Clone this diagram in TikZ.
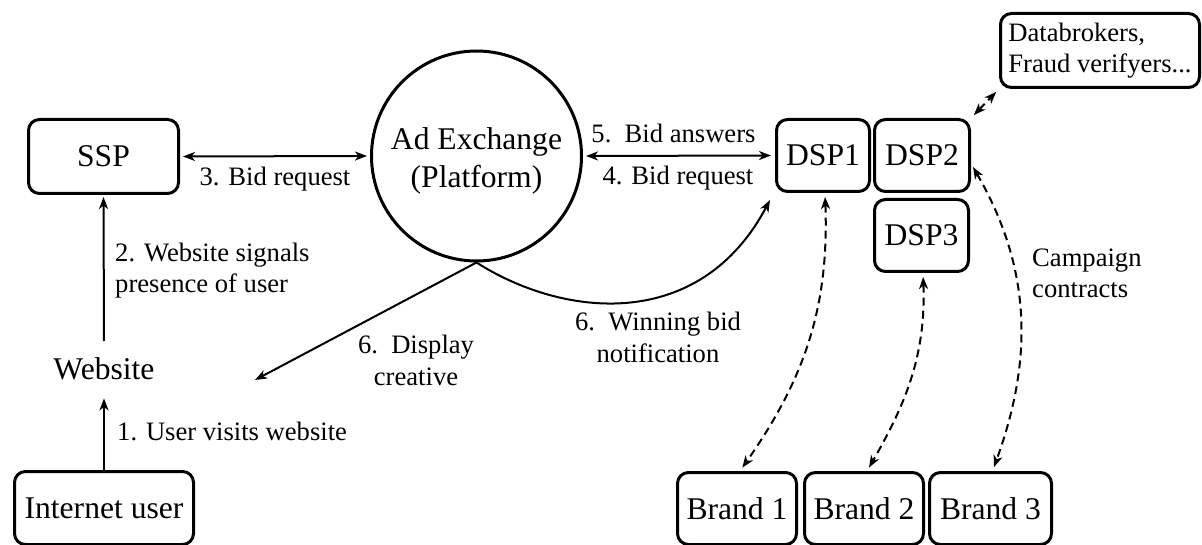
\documentclass[tikz,border=0pt]{standalone}
\usepackage{fontspec}
\setmainfont{Liberation Serif}
\usetikzlibrary{arrows.meta}
\newcommand\mainsz{\fontsize{31.6}{38}\selectfont}
\newcommand\lblsz{\fontsize{26.6}{31.5}\selectfont}
\begin{document}
\begin{tikzpicture}[x=1pt,y=-1pt,
  >={Stealth[length=12pt,width=9pt,inset=3.5pt]},
  box/.style={draw,line width=3pt,rounded corners=11pt,font=\mainsz,inner sep=0pt},
  conn/.style={line width=2pt,->},
  dconn/.style={line width=2pt,<->,dash pattern=on 8pt off 5pt,shorten <=4pt,shorten >=4pt},
  lbl/.style={font=\lblsz,inner sep=0pt}]
\useasboundingbox (0,0) rectangle (1202,545);
% nodes
\node[box,minimum width=150pt,minimum height=74pt] (ssp) at (103.5,156.5) {SSP};
\node[draw,circle,line width=3pt,minimum size=210pt,inner sep=0pt,font=\mainsz,align=center] (adx) at (476.5,156) {\rule{0pt}{31pt}Ad Exchange\\(Platform)};
\node[box,minimum width=93pt,minimum height=72pt] (dsp1) at (823,155.5) {DSP1};
\node[box,minimum width=95pt,minimum height=72pt] (dsp2) at (922,155.5) {DSP2};
\node[box,minimum width=94pt,minimum height=72pt] (dsp3) at (921.5,235.5) {DSP3};
\node[box,minimum width=199pt,minimum height=74pt,font=\lblsz,align=left] (db) at (1100,50.5) {Databrokers,\\Fraud verifyers...};
\node[font=\mainsz,minimum height=50pt,inner sep=0pt] (web) at (104,369.2) {Website};
\node[box,minimum width=179pt,minimum height=73pt] (user) at (104,508) {Internet user};
\node[box,minimum width=119pt,minimum height=72pt] (brand1) at (737,508.5) {Brand 1};
\node[box,minimum width=119pt,minimum height=72pt] (brand2) at (864,508.5) {Brand 2};
\node[box,minimum width=122pt,minimum height=72pt] (brand3) at (990.5,508.5) {Brand 3};
\coordinate (dispend) at (255,380);
% connectors
\draw[conn,shorten >=4pt] (user.north) -- (web.south);
\draw[conn,shorten <=3pt,shorten >=2pt] (web.north) -- (ssp.south);
\draw[conn,<->,shorten <=3pt,shorten >=3pt] (ssp.east) -- (adx.west);
\draw[conn,<->,shorten <=3pt,shorten >=4pt] (adx.east) -- (dsp1.west);
\draw[conn] (adx.south) .. controls +(88,56) and +(-70,132) .. ([xshift=-5pt,yshift=-7pt]dsp1.south west);
\draw[conn] (adx.south) -- (dispend);
\draw[dconn] ([xshift=2pt]dsp1.south) to[out=-88,in=55] ([xshift=3pt]brand1.north);
\draw[dconn] ([xshift=1.5pt]dsp3.south) to[out=-88,in=60] ([xshift=3pt]brand2.north);
\draw[dconn] ([yshift=-8pt]dsp2.east) to[out=-60,in=70] ([xshift=2pt]brand3.north);
\draw[dconn] (dsp2.north east) -- (db.south west);
% labels
\node[lbl,anchor=base] (l3) at (275,186) {3. Bid request};
\node[lbl,anchor=base west,align=left] (l2) at (115,293) {2. Website signals\\presence of user};
\node[lbl,anchor=base west] (l1) at (117,440) {1. User visits website};
\node[lbl,anchor=base,align=center] (l6a) at (416,385) {6.\ \ Display\\creative};
\node[lbl,anchor=base,align=center] (l6b) at (658,362) {6.\ \ Winning bid\\notification};
\node[lbl,anchor=base] (l5) at (673.5,143) {5.\ \ Bid answers};
\node[lbl,anchor=base] (l4) at (678,185) {4. Bid request};
\node[lbl,anchor=base west,align=left] (lc) at (1032,298) {Campaign\\contracts};
\end{tikzpicture}
\end{document}
